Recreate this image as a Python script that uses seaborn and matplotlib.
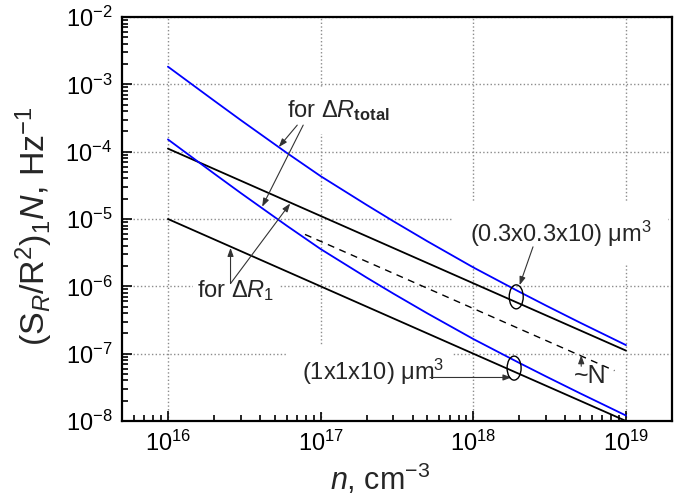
import numpy as np
import pandas as pd
import matplotlib
matplotlib.use("Agg")
import matplotlib.pyplot as plt
import matplotlib.transforms as mtransforms
from matplotlib.patches import Ellipse, Rectangle
from matplotlib.ticker import LogLocator, NullFormatter
import seaborn as sns

sns.set_style("white")
plt.rcParams['font.family'] = ['Liberation Sans', 'DejaVu Sans']
plt.rcParams['mathtext.fontset'] = 'custom'
plt.rcParams['mathtext.rm'] = 'Liberation Sans'
plt.rcParams['mathtext.it'] = 'Liberation Sans:italic'
plt.rcParams['mathtext.bf'] = 'Liberation Sans:bold'

# Data
n_black = [1e16, 1e19]
black_small = [1.11e-4, 1.11e-7]     # (0.3x0.3x10) um^3, dR_1
black_large = [1.0e-5, 1.0e-8]       # (1x1x10) um^3, dR_1

n_blue = [1e16, 2e16, 3e16, 6e16, 1e17, 2e17, 3e17, 5e17, 1e18, 2e18, 3e18, 5e18, 1e19]
blue_small = [1.83e-3, 5.75e-4, 2.94e-4, 9.6e-5, 4.33e-5, 1.62e-5, 9.25e-6, 4.67e-6,
              1.91e-6, 8.3e-7, 5.17e-7, 2.89e-7, 1.34e-7]   # dR_total
blue_large = [1.52e-4, 4.75e-5, 2.43e-5, 7.95e-6, 3.58e-6, 1.35e-6, 7.78e-7, 3.97e-7,
              1.65e-7, 7.29e-8, 4.58e-8, 2.58e-8, 1.205e-8]  # dR_total

n_dash = [7.9e16, 8.4e18]
dash_N = [5.9e-6, 5.6e-8]

fig = plt.figure(figsize=(6.75, 5), dpi=100)
ax = fig.add_axes([0.1807, 0.158, 0.8148, 0.808])
ax.set_xscale('log')
ax.set_yscale('log')

lw = 1.3
sns.lineplot(x=n_black, y=black_small, color='black', lw=lw, ax=ax, estimator=None)
sns.lineplot(x=n_black, y=black_large, color='black', lw=lw, ax=ax, estimator=None)
sns.lineplot(x=n_blue, y=blue_small, color='#0000ff', lw=lw, ax=ax, estimator=None)
sns.lineplot(x=n_blue, y=blue_large, color='#0000ff', lw=lw, ax=ax, estimator=None)
ax.plot(n_dash, dash_N, color='black', lw=1.0, dashes=(5, 4))

ax.set_xlim(5e15, 2e19)
ax.set_ylim(1e-8, 1e-2)

ax.xaxis.set_major_locator(LogLocator(base=10, numticks=10))
ax.xaxis.set_minor_locator(LogLocator(base=10, subs=np.arange(2, 10), numticks=20))
ax.yaxis.set_major_locator(LogLocator(base=10, numticks=10))
ax.yaxis.set_minor_locator(LogLocator(base=10, subs=np.arange(2, 10), numticks=20))
ax.xaxis.set_minor_formatter(NullFormatter())
ax.yaxis.set_minor_formatter(NullFormatter())

ax.set_axisbelow(True)
ax.grid(True, which='major', color='#8c8c8c', linestyle=':', linewidth=1.0)
ax.tick_params(which='both', direction='in', bottom=True, left=True, top=False, right=False,
               width=1.2, labelsize=17, colors='black')
ax.tick_params(which='major', length=7, pad=7)
ax.tick_params(which='minor', length=4)
for s in ax.spines.values():
    s.set_color('black')
    s.set_linewidth(1.6)

ax.set_xlabel(r'$n$, cm$^{-3}$', fontsize=22)
ax.set_ylabel(r'(S$_R$/R$^2$)$_1$$N$, Hz$^{-1}$', fontsize=24.5)
ax.xaxis.set_label_coords(0.47, -0.10)
ax.yaxis.set_label_coords(-0.122, 0.483)

white = dict(boxstyle='square,pad=0.45', fc='white', ec='none')
arrow = dict(arrowstyle='-|>,head_length=0.5,head_width=0.18', color='#333333',
             lw=0.8, shrinkA=0, shrinkB=0)

# for dR_total
ax.text(6.05e16, 3.27e-4, r'for $\Delta R_{\mathbf{total}}$', fontsize=17,
        ha='left', va='baseline', bbox=white, zorder=1)
ax.annotate('', xy=(5.32e16, 1.17e-4), xytext=(7.03e16, 2.48e-4), arrowprops=arrow)
ax.annotate('', xy=(4.14e16, 1.52e-5), xytext=(7.69e16, 2.48e-4), arrowprops=arrow)

# for dR_1
ax.text(1.56e16, 6.92e-7, r'for $\Delta R_1$', fontsize=17,
        ha='left', va='baseline', bbox=dict(boxstyle='square,pad=0.2', fc='white', ec='none'),
        zorder=1)
ax.annotate('', xy=(2.57e16, 3.73e-6), xytext=(2.57e16, 1.10e-6), arrowprops=arrow)
ax.annotate('', xy=(6.32e16, 1.70e-5), xytext=(2.57e16, 1.10e-6), arrowprops=arrow)

# volumes
ax.text(9.48e17, 4.58e-6, '(0.3x0.3x10) \u03bcm$^3$', fontsize=17,
        ha='left', va='baseline', bbox=dict(boxstyle='square,pad=0.7', fc='white', ec='none'),
        zorder=1)
ax.annotate('', xy=(2.01e18, 1.04e-6), xytext=(2.46e18, 3.86e-6), arrowprops=arrow)

# white background of the lower label reaches down to the ticks
ax.add_patch(Rectangle((0.302, 0.022), 0.30, 0.166, transform=ax.transAxes,
                       fc='white', ec='none', zorder=0.9))
ax.text(7.55e16, 4.04e-8, '(1x1x10) \u03bcm$^3$', fontsize=17,
        ha='left', va='baseline', zorder=1)
ax.annotate('', xy=(1.78e18, 4.43e-8), xytext=(5.2e17, 4.43e-8), arrowprops=arrow)

# ~N
ax.text(4.55e18, 3.7e-8, '~N', fontsize=18, ha='left', va='baseline')
ax.annotate('', xy=(5.09e18, 9.5e-8), xytext=(5.09e18, 6.5e-8), arrowprops=arrow)

# ellipses around line pairs
for cx, cy in [(1.91e18, 6.98e-7), (1.85e18, 6.1e-8)]:
    tr = fig.dpi_scale_trans + mtransforms.ScaledTranslation(cx, cy, ax.transData)
    ax.add_patch(Ellipse((0, 0), 0.14, 0.24, transform=tr, fill=False,
                         ec='black', lw=1.0, zorder=3))

plt.savefig('out.png', dpi=100)
